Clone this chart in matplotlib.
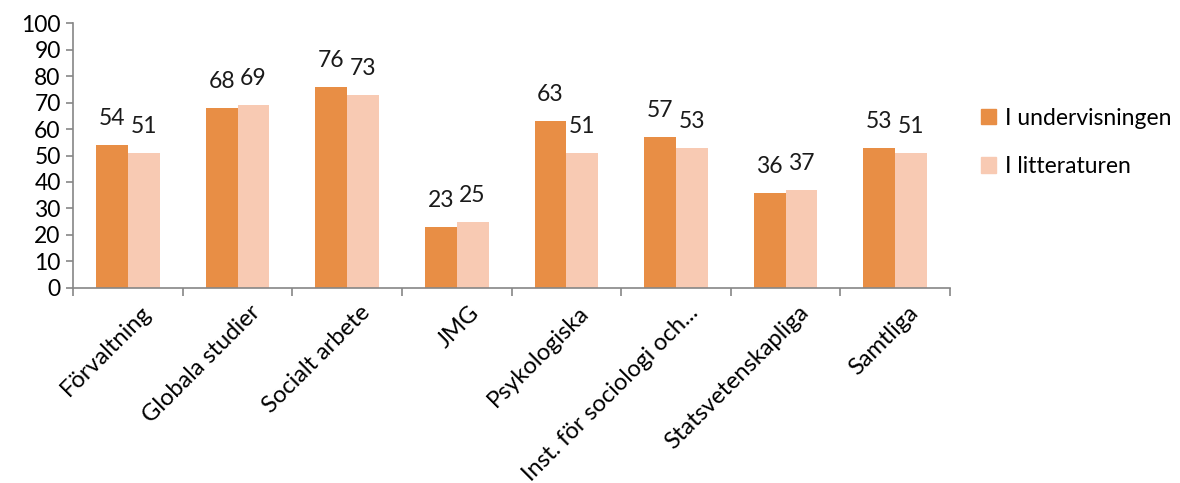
import numpy as np
import matplotlib
matplotlib.use("Agg")
import matplotlib.pyplot as plt
import matplotlib.transforms as mtransforms
from matplotlib.patches import Patch

categories = ["Förvaltning", "Globala studier", "Socialt arbete", "JMG", "Psykologiska",
              "Inst. för sociologi och...", "Statsvetenskapliga", "Samtliga"]
undervisning = [54, 68, 76, 23, 63, 57, 36, 53]
litteratur = [51, 69, 73, 25, 51, 53, 37, 51]

orange = "#E88E45"
peach = "#F8CAB3"
grey = "#868686"

plt.rcParams['font.family'] = ['Lato', 'DejaVu Sans']

fig = plt.figure(figsize=(11.8, 4.83), dpi=100)
ax = fig.add_axes([0.062, 0.404, 0.743, 0.548])

x = np.arange(len(categories))
w = 0.29
b1 = ax.bar(x - w / 2, undervisning, w, color=orange, label="I undervisningen")
b2 = ax.bar(x + w / 2, litteratur, w, color=peach, label="I litteraturen")

for bars, vals in ((b1, undervisning), (b2, litteratur)):
    for rect, v in zip(bars, vals):
        ax.text(rect.get_x() + rect.get_width() / 2, v + 6, str(v),
                ha="center", va="bottom", fontsize=16.5, color="#1a1a1a")

ax.set_xlim(-0.5, len(categories) - 0.5)
ax.set_ylim(0, 100)
ax.set_yticks(range(0, 101, 10))
ax.tick_params(axis="y", labelsize=16.5, length=5, color=grey, width=1.2, pad=4)

ax.set_xticks(x)
ax.set_xticklabels(categories, rotation=45, ha="right", rotation_mode="anchor", fontsize=17)
ax.tick_params(axis="x", length=0, pad=10)
offset = mtransforms.ScaledTranslation(0.12, 0.0, fig.dpi_scale_trans)
for lbl in ax.get_xticklabels():
    lbl.set_transform(lbl.get_transform() + offset)
ax.set_xticks(np.arange(-0.5, len(categories)), minor=True)
ax.tick_params(axis="x", which="minor", length=6, color=grey, width=1.2)

for s in ("top", "right"):
    ax.spines[s].set_visible(False)
for s in ("left", "bottom"):
    ax.spines[s].set_color(grey)
    ax.spines[s].set_linewidth(1.2)

handles = [Patch(color=orange, label="I undervisningen"), Patch(color=peach, label="I litteraturen")]
fig.legend(handles=handles, loc="upper left", bbox_to_anchor=(0.814, 0.82), frameon=False,
           fontsize=16.5, handlelength=0.65, handleheight=0.65, handletextpad=0.4, labelspacing=1.2)

fig.savefig("out.png", dpi=100)
